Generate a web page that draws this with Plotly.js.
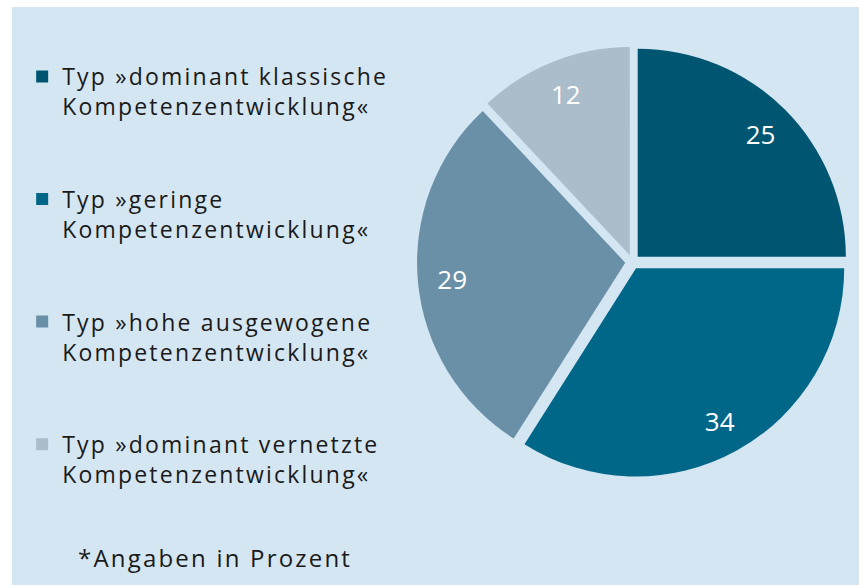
<!DOCTYPE html>
<html>
<head>
<meta charset="utf-8">
<script src="https://cdn.plot.ly/plotly-3.0.1.min.js"></script>
<style>
  html, body { margin: 0; padding: 0; background: #ffffff; width: 859px; height: 585px; overflow: hidden; }
  #chart { position: absolute; left: 12px; top: 7px; width: 847px; height: 578px; }
  .legendtext { letter-spacing: 2.2px; }
  .annotation-text { letter-spacing: 2.2px; }
</style>
</head>
<body>
<div id="chart"></div>
<script>
// Data
const labels = [
  "Typ »dominant klassische<br>Kompetenzentwicklung«",
  "Typ »geringe<br>Kompetenzentwicklung«",
  "Typ »hohe ausgewogene<br>Kompetenzentwicklung«",
  "Typ »dominant vernetzte<br>Kompetenzentwicklung«"
];
const values = [25, 34, 29, 12];
const colors = ["#005670", "#006788", "#6a90a8", "#abbdcb"];
const footnote = "*Angaben in Prozent";

const bg = "#d5e6f3";
const fontFamily = "'Open Sans', 'Noto Sans', sans-serif";
const pieDomain = { x: [0.4782, 0.9870], y: [0.1860, 0.9317] };
const pulls = values.map(() => 0.035);

// Main pie (slices + legend)
const pieTrace = {
  type: "pie",
  labels: labels.map(l => l + "<br> <br> "),
  values: values,
  sort: false,
  direction: "clockwise",
  rotation: 0,
  pull: pulls,
  marker: { colors: colors, line: { width: 0 } },
  textinfo: "none",
  domain: pieDomain,
  hoverinfo: "label+value"
};

// Transparent ring on top, only to place the value labels near the outer edge
const labelTrace = {
  type: "pie",
  labels: labels,
  values: values,
  sort: false,
  direction: "clockwise",
  rotation: 0,
  pull: pulls,
  hole: 0.67,
  marker: { colors: values.map(() => "rgba(0,0,0,0)"), line: { width: 0 } },
  textinfo: "value",
  textposition: "inside",
  insidetextorientation: "horizontal",
  textfont: { family: fontFamily, size: 26, color: "#ffffff" },
  domain: pieDomain,
  showlegend: false,
  hoverinfo: "skip"
};

const layout = {
  width: 847,
  height: 578,
  margin: { l: 0, r: 0, t: 0, b: 0 },
  paper_bgcolor: bg,
  plot_bgcolor: bg,
  showlegend: true,
  legend: {
    x: 0.012,
    y: 0.917,
    xanchor: "left",
    yanchor: "top",
    valign: "top",
    bgcolor: "rgba(0,0,0,0)",
    font: { family: fontFamily, size: 23, color: "#1a1a1a" },
    traceorder: "normal"
  },
  annotations: [{
    text: footnote,
    xref: "paper", yref: "paper",
    x: 0.2397, y: 0.0484,
    xanchor: "center", yanchor: "middle",
    showarrow: false,
    font: { family: fontFamily, size: 24, color: "#1a1a1a" }
  }]
};

Plotly.newPlot("chart", [pieTrace, labelTrace], layout, { displayModeBar: false, staticPlot: true });
</script>
</body>
</html>
